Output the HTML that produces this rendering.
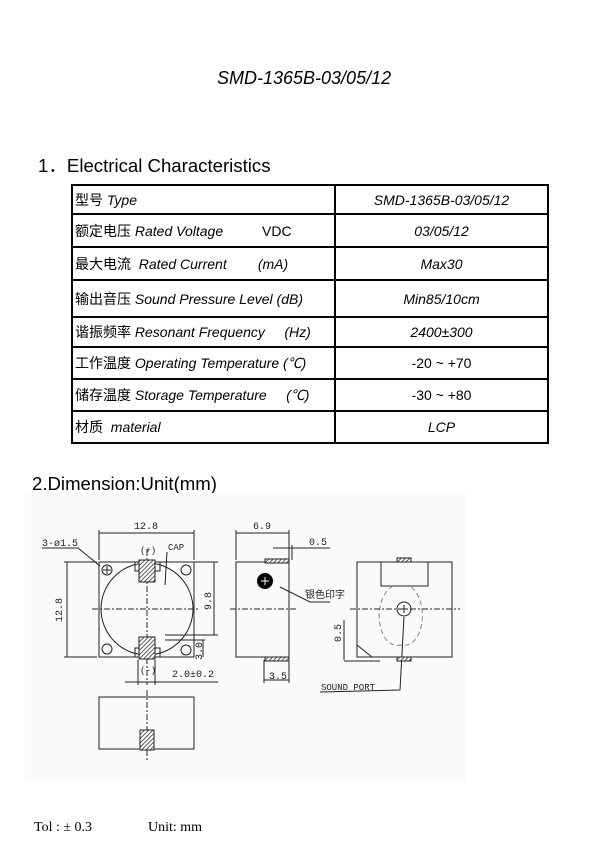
<!DOCTYPE html>
<html><head><meta charset="utf-8"><style>
body{margin:0;background:#fff;}
.pg{position:relative;width:612px;height:842px;overflow:hidden;font-family:"Liberation Sans","Noto Sans CJK SC",sans-serif;}
.t{position:absolute;white-space:nowrap;}
table{position:absolute;left:71px;top:184px;border-collapse:collapse;width:478px;}
td{border:2px solid #000;font-size:14px;padding:0 2px;line-height:16px;}
td.r{text-align:center;width:207px;}
i{font-style:italic;}
</style></head><body><div class="pg">
<div class="t" style="left:217px;top:68px;font-size:18px;font-style:italic;">SMD-1365B-03/05/12</div>
<div class="t" style="left:38px;top:151px;font-size:18.6px;">1．Electrical Characteristics</div>
<table>
<tr style="height:29px"><td>型号 <i>Type</i></td><td class="r"><i>SMD-1365B-03/05/12</i></td></tr>
<tr style="height:33px"><td>额定电压 <i>Rated Voltage</i>&nbsp;&nbsp;&nbsp;&nbsp;&nbsp;&nbsp;&nbsp;&nbsp;&nbsp;&nbsp;VDC</td><td class="r"><i>03/05/12</i></td></tr>
<tr style="height:33px"><td>最大电流&nbsp; <i>Rated Current</i>&nbsp;&nbsp;&nbsp;&nbsp;&nbsp;&nbsp;&nbsp;&nbsp;<i>(mA)</i></td><td class="r"><i>Max30</i></td></tr>
<tr style="height:37px"><td>输出音压 <i>Sound Pressure Level (dB)</i></td><td class="r"><i>Min85/10cm</i></td></tr>
<tr style="height:30px"><td>谐振频率 <i>Resonant Frequency</i>&nbsp;&nbsp;&nbsp;&nbsp;&nbsp;<i>(Hz)</i></td><td class="r"><i>2400±300</i></td></tr>
<tr style="height:32px"><td>工作温度 <i>Operating Temperature (℃)</i></td><td class="r">-20 ~ +70</td></tr>
<tr style="height:32px"><td>储存温度 <i>Storage Temperature</i>&nbsp;&nbsp;&nbsp;&nbsp;&nbsp;<i>(℃)</i></td><td class="r">-30 ~ +80</td></tr>
<tr style="height:32px"><td>材质&nbsp; <i>material</i></td><td class="r"><i>LCP</i></td></tr>
</table>
<div class="t" style="left:32px;top:473px;font-size:18.6px;">2.Dimension:Unit(mm)</div>
<svg style="position:absolute;left:0;top:0" width="612" height="842">
<defs><pattern id="h" width="3" height="3" patternUnits="userSpaceOnUse" patternTransform="rotate(45)"><rect width="3" height="3" fill="#fff"/><line x1="0" y1="0" x2="0" y2="3" stroke="#333" stroke-width="1.6"/></pattern></defs>
<rect x="25" y="493" width="441" height="290" fill="#fafafa"/>
<g fill="none" stroke="#222" stroke-width="1">
<rect x="99" y="562" width="95" height="95"/>
<circle cx="147" cy="609" r="46"/>
<circle cx="107" cy="570" r="5"/><circle cx="186" cy="570" r="5"/><circle cx="107" cy="649" r="5"/><circle cx="186" cy="650" r="5"/>
<line x1="103" y1="570" x2="111" y2="570"/><line x1="107" y1="566" x2="107" y2="574"/>
<rect x="135" y="562" width="25" height="9"/><rect x="135" y="648" width="25" height="9"/>
<line x1="92" y1="609" x2="200" y2="609" stroke-dasharray="6,2,2,2"/>
<line x1="147" y1="550" x2="147" y2="685" stroke-dasharray="6,2,2,2"/>
<line x1="99" y1="530" x2="99" y2="560"/><line x1="194" y1="530" x2="194" y2="560"/><line x1="99" y1="533" x2="194" y2="533"/>
<line x1="64" y1="562" x2="97" y2="562"/><line x1="64" y1="657" x2="97" y2="657"/><line x1="67" y1="562" x2="67" y2="657"/>
<line x1="160" y1="562" x2="218" y2="562"/><line x1="165" y1="635" x2="218" y2="635"/><line x1="214" y1="562" x2="214" y2="635"/>
<line x1="165" y1="640" x2="205" y2="640"/><line x1="203" y1="640" x2="203" y2="657"/>
<line x1="125" y1="682" x2="218" y2="682"/><line x1="138" y1="660" x2="138" y2="685"/><line x1="155" y1="660" x2="155" y2="685"/>
<polyline points="42,548 78,548 100,566"/>
<line x1="167" y1="552" x2="165" y2="585"/>
<rect x="99" y="697" width="95" height="52"/>
<line x1="147" y1="690" x2="147" y2="760" stroke-dasharray="6,2,2,2"/>
<rect x="236" y="562" width="53" height="95"/>
<line x1="236" y1="530" x2="236" y2="560"/><line x1="289" y1="530" x2="289" y2="560"/><line x1="236" y1="533" x2="289" y2="533"/>
<line x1="273" y1="548" x2="330" y2="548"/><line x1="292" y1="545" x2="292" y2="560"/>
<line x1="264" y1="660" x2="264" y2="683"/><line x1="289" y1="660" x2="289" y2="683"/><line x1="264" y1="680" x2="289" y2="680"/>
<line x1="230" y1="609" x2="296" y2="609" stroke-dasharray="6,2,2,2"/>
<polyline points="280,587 310,602 330,602"/>
<rect x="357" y="562" width="95" height="95"/>
<rect x="381" y="562" width="47" height="24"/>
<polyline points="357,645 372,657"/>
<path d="M393,586 C370,600 378,650 400,645 C425,650 430,600 410,586" stroke-dasharray="5,3" stroke="#888"/>
<circle cx="404" cy="609" r="7"/>
<line x1="400" y1="609" x2="408" y2="609"/><line x1="404" y1="605" x2="404" y2="613"/>
<line x1="350" y1="609" x2="460" y2="609" stroke-dasharray="6,2,2,2"/>
<line x1="344" y1="620" x2="344" y2="660"/><line x1="344" y1="661" x2="380" y2="661"/>
<polyline points="404,617 400,690 320,692"/>
</g>
<g fill="url(#h)" stroke="#222" stroke-width="1">
<rect x="139" y="560" width="16" height="22"/><rect x="139" y="637" width="16" height="22"/>
<rect x="140" y="730" width="14" height="20"/>
<rect x="265" y="559" width="24" height="4"/><rect x="265" y="657" width="24" height="4"/>
<rect x="397" y="558" width="14" height="4"/><rect x="397" y="657" width="14" height="4"/>
</g>
<circle cx="265" cy="581" r="8" fill="#000"/>
<line x1="261" y1="581" x2="269" y2="581" stroke="#fff"/><line x1="265" y1="577" x2="265" y2="585" stroke="#fff"/>
<g font-family="Liberation Mono,monospace" font-size="10" fill="#222">
<text x="134" y="529">12.8</text><text x="42" y="546">3-ø1.5</text>
<text x="140" y="553" font-size="9">(+)</text><text x="168" y="550" font-size="9">CAP</text>
<text x="253" y="529">6.9</text><text x="309" y="545">0.5</text>
<text x="140" y="673" font-size="9">(-)</text><text x="172" y="677">2.0±0.2</text>
<text x="269" y="679">3.5</text>
<text x="321" y="690" font-size="9">SOUND PORT</text>
<text x="305" y="598" font-family="Noto Sans CJK SC,sans-serif">银色印字</text>
<text transform="translate(62,622) rotate(-90)">12.8</text>
<text transform="translate(211,610) rotate(-90)">9.8</text>
<text transform="translate(202,660) rotate(-90)">3.0</text>
<text transform="translate(341,642) rotate(-90)">0.5</text>
</g>
</svg>
<div class="t" style="left:34px;top:820px;font-size:14px;font-family:'Liberation Serif',serif;">Tol : ± 0.3</div>
<div class="t" style="left:148px;top:820px;font-size:14px;font-family:'Liberation Serif',serif;">Unit: mm</div>
</div></body></html>
